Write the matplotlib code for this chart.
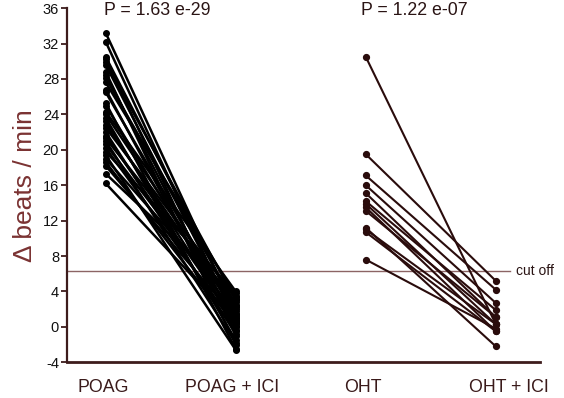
import matplotlib
matplotlib.use("Agg")
import matplotlib.pyplot as plt

plt.rcParams['font.family'] = ['Liberation Sans', 'DejaVu Sans']

categories = ["POAG", "POAG + ICI", "OHT", "OHT + ICI"]
poag_pre = [33.2, 32.2, 30.5, 30.2, 29.9, 29.6, 28.8, 28.5, 28.1, 27.6, 26.8,
            26.5, 25.3, 25.0, 24.3, 24.0, 23.6, 23.2, 22.8, 22.5, 22.0, 21.6,
            21.3, 21.0, 20.6, 20.2, 19.8, 19.4, 19.0, 18.6, 18.2, 17.3, 16.2]
poag_post = [1.5, 0.5, 2.0, -1.0, 3.0, 1.0, -2.0, 0.0, 2.5, 3.5, -0.5,
             1.2, -2.5, 0.8, 4.0, 2.2, -1.5, 0.3, 1.8, 3.2, -0.8, 0.6,
             2.8, -1.8, 1.4, 0.1, 3.8, -2.6, 2.4, -0.3, 1.0, 3.4, 0.5]
oht_pre = [30.5, 19.5, 17.1, 16.0, 15.1, 14.2, 13.9, 13.5, 13.1, 11.2, 11.0, 10.7, 7.6]
oht_post = [0.3, 5.2, 4.2, 2.7, 1.1, 1.9, 0.3, -0.5, 1.1, -2.2, 0.3, -0.5, -0.2]
cutoff = 6.3
p_values = ["P = 1.63 e-29", "P = 1.22 e-07"]
y_ticks = list(range(-4, 37, 4))

W, H = 564, 398
fig = plt.figure(figsize=(W / 100, H / 100), dpi=100)
left, right, top, bottom = 66.7, 540, 8.1, 362.3
ax = fig.add_axes([left / W, 1 - bottom / H, (right - left) / W, (bottom - top) / H])

for a, b in zip(poag_pre, poag_post):
    ax.plot([0, 1], [a, b], color="black", lw=1.8, marker="o", ms=4, solid_capstyle="round")
oht_col = "#2a0c0c"
for a, b in zip(oht_pre, oht_post):
    ax.plot([2, 3], [a, b], color=oht_col, lw=1.5, marker="o", ms=4.2)

ax.axhline(cutoff, xmin=0, xmax=0.937, color="#8c6464", lw=1.0, zorder=0)
ax.text(0.950, cutoff, "cut off", transform=ax.get_yaxis_transform(), fontsize=10,
        color="#2a1414", va="center", ha="left")

ax.set_xlim(-0.30, 3.34)
ax.set_ylim(-4, 36)
ax.set_yticks(y_ticks)
ax.set_yticklabels([str(t) for t in y_ticks], fontsize=10.5, color="#111111")
ax.set_xticks([-0.02, 0.97, 1.98, 3.1])
ax.set_xticklabels(categories, fontsize=12.8, color="#3a1a1a")
ax.tick_params(axis='x', length=0, pad=12)
ax.tick_params(axis='y', length=4, width=1.3, color="#3d1c1c", pad=1.5, direction='out')

for s in ["top", "right"]:
    ax.spines[s].set_visible(False)
ax.spines["left"].set_color("#3d1c1c")
ax.spines["left"].set_linewidth(1.6)
ax.spines["bottom"].set_color("#3d1c1c")
ax.spines["bottom"].set_linewidth(2.0)

ax.set_ylabel("\u0394 beats / min", fontsize=19, color="#7a3232", labelpad=4)

ax.text(0.40, 0.993, p_values[0], transform=ax.get_xaxis_transform(), fontsize=12.8,
        color="#2a1414", ha="center", va="center")
ax.text(2.37, 0.993, p_values[1], transform=ax.get_xaxis_transform(), fontsize=12.8,
        color="#2a1414", ha="center", va="center")

fig.savefig("out.png", dpi=100)
